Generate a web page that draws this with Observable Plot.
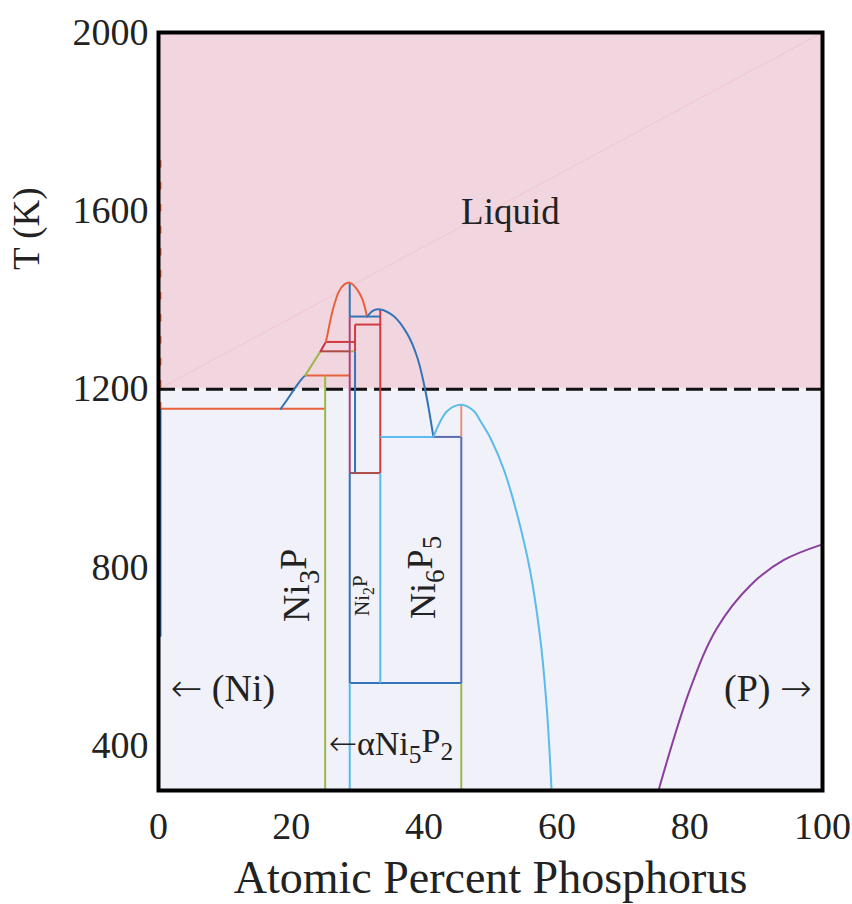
<!DOCTYPE html>
<html><head><meta charset="utf-8">
<script src="https://cdn.jsdelivr.net/npm/d3@7"></script>
<script src="https://cdn.jsdelivr.net/npm/@observablehq/plot@0.6"></script>
<style>body{margin:0;background:#fff}</style>
</head><body><div id="chart"></div>
<script>
// ---- data (atomic % P, temperature K) ----
const xTicks = [0, 20, 40, 60, 80, 100];
const yTicks = [400, 800, 1200, 1600, 2000];
const liquidBoundary = 1200;
const liquidNiSide = [[18.4,1156],[19.4,1177],[20.4,1199],[21.4,1220],[22.1,1231]];
const liquidNi3P = [[22.1,1231],[24.4,1285]];
const liquidStep = [[24.4,1285],[25.2,1306]];
const domeNi5P2 = [[25.2,1306],[25.4,1319],[26.2,1375],[27.2,1420],[28.0,1435],[28.8,1439],[29.9,1424],[30.7,1402],[31.4,1363]];
const domeNi2P = [[31.4,1363],[32.4,1377],[33.4,1379],[35.4,1364],[37.5,1323],[39.0,1270],[40.2,1196],[41.4,1093]];
const domeNi6P5 = [[41.4,1093],[43.5,1151],[45.6,1165],[47.5,1151],[48.5,1128],[50,1090],[52,1020],[54,920],[56,790],[57.5,640],[58.5,480],[59.2,300]];
const solvusP = [[75.3,300],[80.1,529],[84.1,664],[89.2,761],[94.2,817],[100,852]];
const diagonal = [[0,1200],[100,2000]];
const niMeltDashed = [[0.3,1156],[0.3,1717]];
// segments [x1, y1, x2, y2]
const orangeSegs = [[0,1156,25.1,1156],[22.1,1231,28.8,1231]];
const greenSegs = [[25.1,300,25.1,1231],[45.6,300,45.6,541],[28.8,1285,29.6,1285]];
const brownSegs = [[24.4,1285,28.8,1285],[28.8,1012,33.4,1012]];
const redSegs = [[25.2,1306,29.6,1306],[29.6,1345,33.4,1345],[33.4,1012,33.4,1379],[29.6,1285,29.6,1345]];
const magentaSegs = [[28.8,1012,28.8,1363]];
const blueSegs = [[28.8,1363,28.8,1439],[28.8,1363,33.4,1363],[28.8,541,28.8,1012],[28.8,541,45.6,541],[29.6,1012,29.6,1285],[0.3,645,0.3,1156]];
const lightBlueSegs = [[28.8,300,28.8,541],[33.4,541,33.4,1012],[33.4,1093,41.4,1093]];
const navySegs = [[41.4,1093,45.6,1093],[45.6,541,45.6,1093]];
const salmonSegs = [[45.6,1093,45.6,1165]];
// labels
const plainLabels = [{t:"Liquid", x:53, y:1596}];
const leftLabels = [{t:"\u2190 (Ni)", x:1.8, y:529, size:38}, {t:"\u2190\u03b1Ni5P2", x:25.6, y:404, size:34}];
const rightLabels = [{t:"(P) \u2192", x:98.4, y:529}];
const phaseLabels = [{t:"Ni3P", x:20.9, y:760, size:38}, {t:"Ni6P5", x:39.9, y:778, size:36}];
const smallLabels = [{t:"Ni2P", x:30.7, y:737}];

const segs = (arr, color, w=2) => Plot.link(arr, {x1:d=>d[0], y1:d=>d[1], x2:d=>d[2], y2:d=>d[3], stroke:color, strokeWidth:w});
const font = "Liberation Serif, Times New Roman, serif";

const svg = Plot.plot({
  width: 852, height: 904,
  marginLeft: 158, marginRight: 30, marginTop: 32, marginBottom: 114,
  style: {fontFamily: font, background: "#fff", color: "#222"},
  x: {domain: [0, 100]},
  y: {domain: [300, 2000]},
  marks: [
    Plot.rectY([{y1: liquidBoundary, y2: 2000}], {x1: 0, x2: 100, y1: "y1", y2: "y2", fill: "#f2d6df"}),
    Plot.rectY([{y1: 300, y2: liquidBoundary}], {x1: 0, x2: 100, y1: "y1", y2: "y2", fill: "#f0f1f9"}),
    Plot.line(diagonal, {stroke: "#f4b9c2", strokeWidth: 1, strokeOpacity: 0.6}),
    Plot.line(niMeltDashed, {stroke: "#e8603c", strokeWidth: 2, strokeDasharray: "6,16"}),
    Plot.ruleY([liquidBoundary], {x1: 0, x2: 100, stroke: "#111", strokeWidth: 3, strokeDasharray: "17,7"}),
    segs(orangeSegs, "#e8603c"),
    segs(greenSegs, "#9bb84a"),
    segs(brownSegs, "#b04a44"),
    segs(redSegs, "#d13a3e"),
    segs(magentaSegs, "#a8457a"),
    segs(blueSegs, "#3373b8"),
    segs(lightBlueSegs, "#5bbbea"),
    segs(navySegs, "#5a6cb0"),
    segs(salmonSegs, "#e8917a"),
    Plot.line(liquidNiSide, {x: d=>d[0], y: d=>d[1], stroke: "#3373b8", strokeWidth: 2, curve: "catmull-rom"}),
    Plot.line(liquidNi3P, {x: d=>d[0], y: d=>d[1], stroke: "#9bb84a", strokeWidth: 2}),
    Plot.line(liquidStep, {x: d=>d[0], y: d=>d[1], stroke: "#c0343c", strokeWidth: 2}),
    Plot.line(domeNi5P2, {x: d=>d[0], y: d=>d[1], stroke: "#e8603c", strokeWidth: 2, curve: "catmull-rom"}),
    Plot.line(domeNi2P, {x: d=>d[0], y: d=>d[1], stroke: "#3373b8", strokeWidth: 2, curve: "catmull-rom"}),
    Plot.line(domeNi6P5, {x: d=>d[0], y: d=>d[1], stroke: "#5bbbea", strokeWidth: 2, curve: "catmull-rom"}),
    Plot.line(solvusP, {x: d=>d[0], y: d=>d[1], stroke: "#8a3f9e", strokeWidth: 2, curve: "catmull-rom"}),
    Plot.text(plainLabels, {x: "x", y: "y", text: "t", fontSize: 37, fill: "#222"}),
    Plot.text(leftLabels, {x: "x", y: "y", text: "t", fontSize: d=>d.size, textAnchor: "start", fill: "#222"}),
    Plot.text(rightLabels, {x: "x", y: "y", text: "t", fontSize: 38, textAnchor: "end", fill: "#222"}),
    Plot.text(phaseLabels, {x: "x", y: "y", text: "t", fontSize: d=>d.size, rotate: -90, fill: "#222"}),
    Plot.text(smallLabels, {x: "x", y: "y", text: "t", fontSize: 21, rotate: -90, fill: "#222"}),
    Plot.axisX({ticks: xTicks, tickSize: 0, tickPadding: 22, fontSize: 38, label: null, tickFormat: d => String(d)}),
    Plot.axisY({ticks: yTicks, tickSize: 0, tickPadding: 10, fontSize: 38, label: null, tickFormat: d => String(d)}),
    Plot.text(["Atomic Percent Phosphorus"], {x: 50, frameAnchor: "bottom", dy: 102, fontSize: 46, fill: "#222", text: d=>d}),
    Plot.text(["T (K)"], {frameAnchor: "left", y: 1560, dx: -131, rotate: -90, textAnchor: "middle", fontSize: 37, fill: "#222", text: d=>d}),
    Plot.frame({stroke: "#000", strokeWidth: 4})
  ]
});

// subscripts as real text; arrows drawn with a font that has long arrows
const subMap = {
  "Ni3P": [["Ni",0],["3",1],["P",0]],
  "Ni2P": [["Ni",0],["2",1],["P",0]],
  "Ni6P5": [["Ni",0],["6",1],["P",0],["5",1]],
  "\u2190\u03b1Ni5P2": [["\u2190",0,1],["\u03b1Ni",0],["5",1],["P",0],["2",1]],
  "\u2190 (Ni)": [["\u2190",0,1],[" (Ni)",0]],
  "(P) \u2192": [["(P) ",0],["\u2192",0,1]]
};
d3.select(svg).selectAll("text").each(function() {
  const parts = subMap[this.textContent];
  if (!parts) return;
  this.textContent = "";
  let prevSub = false;
  for (const [s, sub, arrow] of parts) {
    const ts = d3.select(this).append("tspan").text(s);
    if (arrow) ts.attr("font-family", "DejaVu Sans").attr("font-weight", 200);
    if (sub && !prevSub) ts.attr("dy", "0.32em").attr("font-size", "75%");
    else if (sub) ts.attr("font-size", "75%");
    else if (!sub && prevSub) ts.attr("dy", "-0.32em");
    prevSub = !!sub;
  }
});
document.getElementById("chart").append(svg);
</script></body></html>
